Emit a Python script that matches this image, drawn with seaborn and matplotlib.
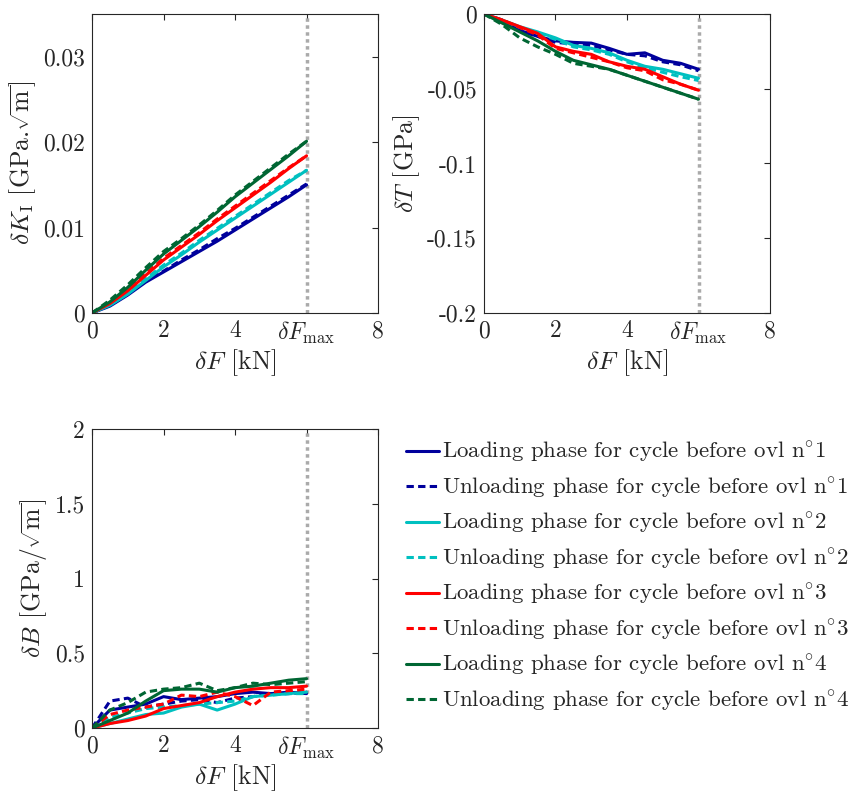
import matplotlib
matplotlib.use('Agg')
import matplotlib.pyplot as plt
import seaborn as sns

# Donnees
dF = [0, 0.5, 1, 1.5, 2, 2.5, 3, 3.5, 4, 4.5, 5, 5.5, 6]
dF_max = 6

# dK_I [GPa.sqrt(m)]  (cycles 1..4)
kI_load = [
    [0, 0.0008, 0.0021, 0.0036, 0.0048, 0.0060, 0.0072, 0.0084, 0.0097, 0.0110, 0.0123, 0.0136, 0.0150],
    [0, 0.0009, 0.0022, 0.0038, 0.0054, 0.0068, 0.0083, 0.0097, 0.0111, 0.0125, 0.0139, 0.0153, 0.0167],
    [0, 0.0011, 0.0026, 0.0044, 0.0062, 0.0077, 0.0092, 0.0108, 0.0123, 0.0138, 0.0153, 0.0169, 0.0184],
    [0, 0.0013, 0.0030, 0.0050, 0.0069, 0.0085, 0.0101, 0.0118, 0.0136, 0.0152, 0.0168, 0.0184, 0.0201],
]
kI_unload = [
    [0, 0.0009, 0.0022, 0.0037, 0.0049, 0.0062, 0.0074, 0.0087, 0.0099, 0.0112, 0.0125, 0.0138, 0.0151],
    [0, 0.0010, 0.0024, 0.0040, 0.0056, 0.0070, 0.0085, 0.0099, 0.0113, 0.0127, 0.0141, 0.0155, 0.0167],
    [0, 0.0012, 0.0028, 0.0046, 0.0064, 0.0079, 0.0094, 0.0110, 0.0125, 0.0140, 0.0155, 0.0170, 0.0184],
    [0, 0.0015, 0.0033, 0.0053, 0.0072, 0.0087, 0.0103, 0.0120, 0.0138, 0.0154, 0.0170, 0.0186, 0.0201],
]

# dT [GPa]
T_load = [
    [0, -0.004, -0.011, -0.015, -0.018, -0.019, -0.0195, -0.023, -0.027, -0.026, -0.031, -0.033, -0.037],
    [0, -0.004, -0.0085, -0.012, -0.016, -0.021, -0.023, -0.026, -0.031, -0.035, -0.037, -0.040, -0.043],
    [0, -0.004, -0.0085, -0.013, -0.022, -0.025, -0.027, -0.032, -0.035, -0.037, -0.042, -0.047, -0.051],
    [0, -0.006, -0.012, -0.018, -0.025, -0.031, -0.034, -0.037, -0.041, -0.045, -0.049, -0.053, -0.057],
]
T_unload = [
    [0, -0.005, -0.011, -0.015, -0.019, -0.020, -0.021, -0.024, -0.027, -0.028, -0.032, -0.034, -0.038],
    [0, -0.004, -0.009, -0.013, -0.017, -0.022, -0.024, -0.027, -0.032, -0.036, -0.039, -0.042, -0.0445],
    [0, -0.004, -0.009, -0.014, -0.023, -0.026, -0.029, -0.032, -0.036, -0.038, -0.044, -0.047, -0.051],
    [0, -0.007, -0.016, -0.022, -0.027, -0.033, -0.035, -0.037, -0.041, -0.045, -0.049, -0.053, -0.057],
]

# dB [GPa/sqrt(m)]
B_load = [
    [0, 0.12, 0.14, 0.16, 0.21, 0.19, 0.20, 0.21, 0.23, 0.24, 0.23, 0.24, 0.23],
    [0, 0.03, 0.06, 0.09, 0.10, 0.14, 0.16, 0.12, 0.16, 0.21, 0.22, 0.23, 0.24],
    [0, 0.03, 0.05, 0.08, 0.13, 0.15, 0.17, 0.21, 0.24, 0.26, 0.27, 0.27, 0.28],
    [0, 0.05, 0.10, 0.18, 0.25, 0.26, 0.26, 0.24, 0.27, 0.28, 0.30, 0.32, 0.33],
]
B_unload = [
    [0, 0.18, 0.20, 0.14, 0.16, 0.18, 0.19, 0.17, 0.20, 0.21, 0.23, 0.23, 0.24],
    [0, 0.07, 0.10, 0.13, 0.14, 0.15, 0.16, 0.17, 0.18, 0.21, 0.22, 0.23, 0.23],
    [0, 0.09, 0.12, 0.14, 0.16, 0.22, 0.21, 0.24, 0.21, 0.15, 0.24, 0.25, 0.26],
    [0, 0.12, 0.17, 0.24, 0.26, 0.27, 0.30, 0.25, 0.27, 0.30, 0.29, 0.30, 0.31],
]

cycle_colors = ['#00009c', '#00c0c0', '#ff0000', '#006633']
dash = (0, (2.4, 1.4))

sns.set_style('white')
plt.rcParams['font.family'] = 'serif'
plt.rcParams['font.serif'] = ['cmr10']
plt.rcParams['mathtext.fontset'] = 'cm'
plt.rcParams['axes.formatter.use_mathtext'] = True
plt.rcParams['font.size'] = 17
plt.rcParams['axes.edgecolor'] = '#262626'
plt.rcParams['axes.linewidth'] = 0.8
plt.rcParams['xtick.direction'] = 'in'
plt.rcParams['ytick.direction'] = 'in'

fig = plt.figure(figsize=(8.53, 7.98), dpi=100)
ax1 = fig.add_axes([0.1079, 0.6078, 0.3353, 0.3747])
ax2 = fig.add_axes([0.5674, 0.6078, 0.3353, 0.3747])
ax3 = fig.add_axes([0.1079, 0.0877, 0.3353, 0.3747])

panels = [
    (ax1, kI_load, kI_unload, (0, 0.035), [0, 0.01, 0.02, 0.03], ['0', '0.01', '0.02', '0.03'],
     r'$\delta K_\mathrm{I}$ [GPa.$\sqrt{\mathrm{m}}$]'),
    (ax2, T_load, T_unload, (-0.2, 0), [-0.2, -0.15, -0.1, -0.05, 0], ['-0.2', '-0.15', '-0.1', '-0.05', '0'],
     r'$\delta T$ [GPa]'),
    (ax3, B_load, B_unload, (0, 2), [0, 0.5, 1, 1.5, 2], ['0', '0.5', '1', '1.5', '2'],
     r'$\delta B$ [GPa/$\sqrt{\mathrm{m}}$]'),
]

for ax, load, unload, ylim, yt, ytl, ylab in panels:
    for i in range(4):
        sns.lineplot(x=dF, y=load[i], ax=ax, color=cycle_colors[i], lw=2.2,
                     label='Loading phase for cycle before ovl n$^{\\circ}$' + str(i + 1))
        sns.lineplot(x=dF, y=unload[i], ax=ax, color=cycle_colors[i], lw=2.2, linestyle=dash,
                     label='Unloading phase for cycle before ovl n$^{\\circ}$' + str(i + 1))
    ax.axvline(dF_max, color='#aaaaaa', lw=2.5, linestyle=(0, (1, 1)), zorder=1)
    ax.set_xlim(0, 8)
    ax.set_ylim(*ylim)
    ax.set_xticks([0, 2, 4, 6, 8])
    ax.set_xticklabels(['0', '2', '4', r'$\delta F_{\max}$', '8'])
    ax.set_yticks(yt)
    ax.set_yticklabels(ytl)
    ax.tick_params(top=True, right=True, length=4, width=0.8, color='#262626', pad=5, labelsize=17)
    ax.set_xlabel(r'$\delta F$ [kN]', labelpad=1, fontsize=18.5)
    ax.set_ylabel(ylab, labelpad=4, fontsize=18.5)
    ax.get_legend().remove()

# ordre : charge/decharge par cycle
handles, labels = ax1.get_legend_handles_labels()
fig.legend(handles, labels, loc='upper left', bbox_to_anchor=(406 / 853, 1 - 440 / 798),
           frameon=False, borderpad=0, borderaxespad=0, handlelength=1.45, handletextpad=0.12,
           labelspacing=0.45, fontsize=16.5)

fig.savefig('out.png', dpi=100)
